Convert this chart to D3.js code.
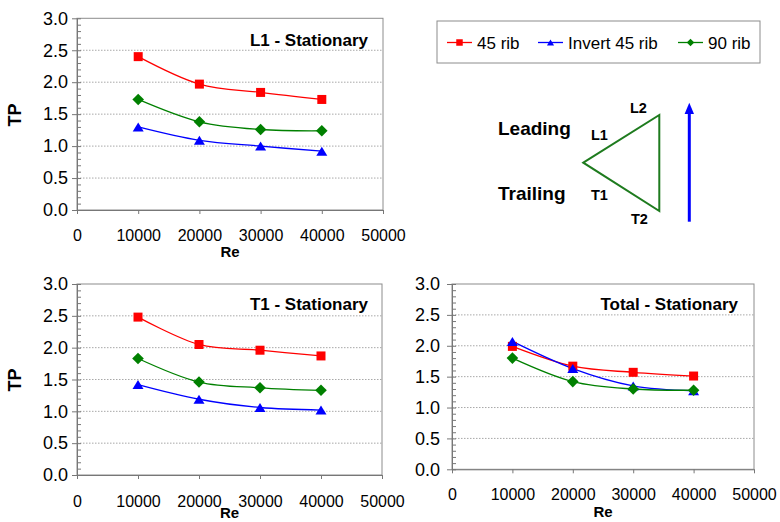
<!DOCTYPE html>
<html>
<head>
<meta charset="utf-8">
<script src="https://cdn.jsdelivr.net/npm/d3@7"></script>
<style>
  body { margin: 0; background: #fff; }
  svg { display: block; font-family: "Liberation Sans", Arial, sans-serif; }
</style>
</head>
<body>
<svg id="chart" width="780" height="522"></svg>
<script>
// Reynolds numbers tested and axis ticks
const reynolds = [10000, 20000, 30000, 40000];
const xTicks = [0, 10000, 20000, 30000, 40000, 50000];
const yTicks = [0, 0.5, 1.0, 1.5, 2.0, 2.5, 3.0];

const seriesNames = ["45 rib", "Invert 45 rib", "90 rib"];
const seriesColors = ["#ff0000", "#0000ff", "#008000"];
const seriesSymbols = ["square", "triangle", "diamond"];

// Thermal performance, surface L1 (stationary)
const l1Rib45 = [2.40, 1.97, 1.84, 1.73];
const l1Inv45 = [1.30, 1.09, 1.00, 0.92];
const l1Rib90 = [1.73, 1.38, 1.26, 1.24];

// Thermal performance, surface T1 (stationary)
const t1Rib45 = [2.48, 2.05, 1.96, 1.87];
const t1Inv45 = [1.42, 1.19, 1.06, 1.02];
const t1Rib90 = [1.83, 1.46, 1.37, 1.33];

// Thermal performance, whole channel (stationary)
const totRib45 = [1.99, 1.67, 1.57, 1.51];
const totInv45 = [2.07, 1.63, 1.35, 1.27];
const totRib90 = [1.80, 1.42, 1.30, 1.28];

const svg = d3.select("#chart");

function marker(sel, kind, color, s) {
  if (kind === "square") {
    sel.append("path").attr("d", d3.symbol(d3.symbolSquare, s * s)()).attr("fill", color);
  } else if (kind === "triangle") {
    const h = s * 0.9, w = s * 1.1;
    sel.append("path")
      .attr("d", `M0,${-h / 2}L${w / 2},${h / 2}L${-w / 2},${h / 2}Z`)
      .attr("fill", color);
  } else {
    const r = s * 0.58;
    sel.append("path")
      .attr("d", `M0,${-r}L${r},0L0,${r}L${-r},0Z`)
      .attr("fill", color);
  }
}

function drawPanel(p) {
  const g = svg.append("g");
  const x = d3.scaleLinear().domain([0, 50000]).range([p.left, p.right]);
  const y = d3.scaleLinear().domain([0, 3]).range([p.bottom, p.top]);

  // plot frame
  g.append("rect")
    .attr("x", p.left).attr("y", p.top)
    .attr("width", p.right - p.left).attr("height", p.bottom - p.top)
    .attr("fill", "none").attr("stroke", "#8c8c8c").attr("stroke-width", 1);

  // dotted horizontal gridlines
  g.append("g").selectAll("line")
    .data(yTicks.filter(v => v > 0 && v < 3))
    .join("line")
    .attr("x1", p.left).attr("x2", p.right)
    .attr("y1", d => y(d)).attr("y2", d => y(d))
    .attr("stroke", "#a8a8a8").attr("stroke-width", 1)
    .attr("stroke-dasharray", "1.5,1.5");

  // minor ticks inside the y axis
  const minor = g.append("g").attr("transform", `translate(${p.left},0)`)
    .call(d3.axisLeft(y).tickValues(d3.range(0, 31).map(i => i / 10)).tickSize(-4).tickFormat(""));
  minor.select(".domain").remove();
  minor.selectAll("line").attr("stroke", "#777");

  // major y axis
  const ya = g.append("g").attr("transform", `translate(${p.left},0)`)
    .call(d3.axisLeft(y).tickValues(yTicks).tickSize(5).tickSizeOuter(0)
      .tickPadding(p.yGap).tickFormat(d3.format(".1f")));
  ya.select(".domain").attr("stroke", "#777");
  ya.selectAll("line").attr("stroke", "#777");
  ya.selectAll("text").attr("font-size", 18).attr("fill", "#000")
    .attr("font-family", '"Liberation Sans", Arial, sans-serif');

  // x axis
  const xa = g.append("g").attr("transform", `translate(0,${p.bottom})`)
    .call(d3.axisBottom(x).tickValues(xTicks).tickSize(4).tickSizeOuter(0).tickFormat(d3.format("d")));
  xa.select(".domain").attr("stroke", "#777");
  xa.selectAll("line").attr("stroke", "#777");
  xa.selectAll("text").attr("font-size", 16).attr("fill", "#000")
    .attr("font-family", '"Liberation Sans", Arial, sans-serif')
    .attr("dy", null).attr("y", p.xBase - p.bottom);

  // axis titles
  g.append("text").attr("x", (p.left + p.right) / 2).attr("y", p.reBase)
    .attr("text-anchor", "middle").attr("font-weight", "bold").attr("font-size", 15)
    .text("Re");
  if (p.tpY) {
    g.append("text").attr("transform", `translate(${p.tpX},${p.tpY}) rotate(-90)`)
      .attr("text-anchor", "middle").attr("font-weight", "bold").attr("font-size", 18)
      .text("TP");
  }

  // panel title
  g.append("text").attr("x", p.titleX).attr("y", p.titleBase)
    .attr("text-anchor", "end").attr("font-weight", "bold").attr("font-size", 17)
    .text(p.title);

  // smoothed series lines and markers
  const line = d3.line().x((d, i) => x(reynolds[i])).y(d => y(d)).curve(d3.curveCatmullRom.alpha(0));
  p.values.forEach((vals, k) => {
    g.append("path").attr("d", line(vals)).attr("fill", "none")
      .attr("stroke", seriesColors[k]).attr("stroke-width", 1.3);
  });
  p.values.forEach((vals, k) => {
    vals.forEach((v, i) => {
      const m = g.append("g").attr("transform", `translate(${x(reynolds[i])},${y(v)})`);
      marker(m, seriesSymbols[k], seriesColors[k], k === 0 ? 9 : 10);
    });
  });
}

const panels = [
  { title: "L1 - Stationary", values: [l1Rib45, l1Inv45, l1Rib90],
    left: 77, right: 383, top: 18.3, bottom: 210, yGap: 4,
    xBase: 241, reBase: 257, tpX: 21, tpY: 115, titleX: 368, titleBase: 46 },
  { title: "T1 - Stationary", values: [t1Rib45, t1Inv45, t1Rib90],
    left: 77, right: 382, top: 284, bottom: 475, yGap: 4,
    xBase: 507, reBase: 518, tpX: 21, tpY: 380, titleX: 368, titleBase: 310 },
  { title: "Total - Stationary", values: [totRib45, totInv45, totRib90],
    left: 452, right: 754, top: 284, bottom: 469.3, yGap: 7,
    xBase: 500, reBase: 517, tpY: null, titleX: 738, titleBase: 310 }
];
panels.forEach(drawPanel);

// legend
const lg = svg.append("g");
lg.append("rect").attr("x", 437).attr("y", 21).attr("width", 323).attr("height", 42)
  .attr("fill", "#fff").attr("stroke", "#8c8c8c");
const legendX = [447, 538, 678];
seriesNames.forEach((name, k) => {
  const lx = legendX[k], ly = 42.5;
  lg.append("line").attr("x1", lx).attr("x2", lx + 25).attr("y1", ly).attr("y2", ly)
    .attr("stroke", seriesColors[k]).attr("stroke-width", 1.3);
  const m = lg.append("g").attr("transform", `translate(${lx + 12.5},${ly})`);
  marker(m, seriesSymbols[k], seriesColors[k], 6.5);
  lg.append("text").attr("x", lx + 30).attr("y", 48.5).attr("font-size", 17).text(name);
});

// channel cross-section sketch with rotation direction
const sk = svg.append("g");
sk.append("path").attr("d", "M583.3,162.7L659.3,115L659.3,211Z")
  .attr("fill", "none").attr("stroke", "#1e7b1e").attr("stroke-width", 2);
sk.append("text").attr("x", 498).attr("y", 135).attr("font-weight", "bold").attr("font-size", 19).text("Leading");
sk.append("text").attr("x", 498).attr("y", 200).attr("font-weight", "bold").attr("font-size", 19).text("Trailing");
const small = [["L2", 630, 113], ["L1", 591, 140], ["T1", 591, 200], ["T2", 631, 224]];
small.forEach(([t, tx, ty]) => {
  sk.append("text").attr("x", tx).attr("y", ty).attr("font-weight", "bold").attr("font-size", 14.5).text(t);
});
sk.append("line").attr("x1", 689.3).attr("x2", 689.3).attr("y1", 221.7).attr("y2", 112)
  .attr("stroke", "#0000ff").attr("stroke-width", 3);
sk.append("path").attr("d", "M689.3,102.7L694,114L684.6,114Z").attr("fill", "#0000ff");
</script>
</body>
</html>
